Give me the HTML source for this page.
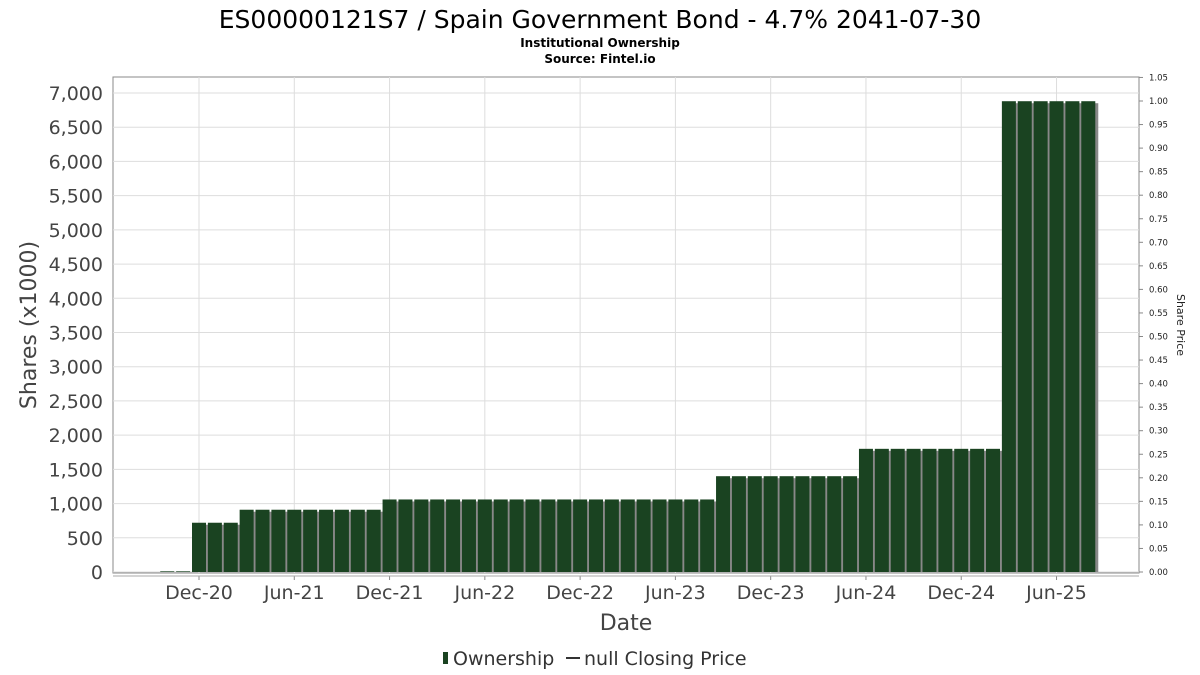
<!DOCTYPE html>
<html><head><meta charset="utf-8"><style>
body{margin:0;background:#fff;font-family:"DejaVu Sans","Liberation Sans",sans-serif;}
svg{display:block}
</style></head><body>
<svg id="c" width="1200" height="675" xmlns="http://www.w3.org/2000/svg">
<text x="600" y="28" text-anchor="middle" font-size="25" fill="#000">ES00000121S7 / Spain Government Bond - 4.7% 2041-07-30</text>
<text x="600" y="47" text-anchor="middle" font-size="12" font-weight="bold">Institutional Ownership</text>
<text x="600" y="63" text-anchor="middle" font-size="12" font-weight="bold">Source: Fintel.io</text>
<rect x="113" y="77" width="1026" height="496" fill="#fff" stroke="#888"/>
<g id="grid"></g><g id="bars"></g><g id="axes"></g>
<text transform="translate(36,325) rotate(-90)" text-anchor="middle" font-size="22" fill="#444">Shares (x1000)</text>
<text transform="translate(1177,325) rotate(90)" text-anchor="middle" font-size="11" fill="#222">Share Price</text>
<text x="626" y="630" text-anchor="middle" font-size="22" fill="#444">Date</text>
<g>
<rect x="443" y="652" width="5" height="12" fill="#1a4321"/>
<text x="453" y="665" font-size="19" fill="#333">Ownership</text>
<line x1="566" y1="658" x2="580" y2="658" stroke="#333" stroke-width="2"/>
<text x="584" y="665" font-size="19" fill="#333">null Closing Price</text>
</g>
</svg>
<script>
const months = ["2020-10","2020-11","2020-12","2021-01","2021-02","2021-03","2021-04","2021-05","2021-06","2021-07","2021-08","2021-09","2021-10","2021-11","2021-12","2022-01","2022-02","2022-03","2022-04","2022-05","2022-06","2022-07","2022-08","2022-09","2022-10","2022-11","2022-12","2023-01","2023-02","2023-03","2023-04","2023-05","2023-06","2023-07","2023-08","2023-09","2023-10","2023-11","2023-12","2024-01","2024-02","2024-03","2024-04","2024-05","2024-06","2024-07","2024-08","2024-09","2024-10","2024-11","2024-12","2025-01","2025-02","2025-03","2025-04","2025-05","2025-06","2025-07","2025-08"];
const ownership = [10,10,720,720,720,910,910,910,910,910,910,910,910,910,1060,1060,1060,1060,1060,1060,1060,1060,1060,1060,1060,1060,1060,1060,1060,1060,1060,1060,1060,1060,1060,1400,1400,1400,1400,1400,1400,1400,1400,1400,1800,1800,1800,1800,1800,1800,1800,1800,1800,6880,6880,6880,6880,6880,6880];
const xTickLabels = ["Dec-20","Jun-21","Dec-21","Jun-22","Dec-22","Jun-23","Dec-23","Jun-24","Dec-24","Jun-25"];
const xTickMonths = ["2020-12","2021-06","2021-12","2022-06","2022-12","2023-06","2023-12","2024-06","2024-12","2025-06"];
const yTicks = [0,500,1000,1500,2000,2500,3000,3500,4000,4500,5000,5500,6000,6500,7000];
const y2Ticks = [0,0.05,0.1,0.15,0.2,0.25,0.3,0.35,0.4,0.45,0.5,0.55,0.6,0.65,0.7,0.75,0.8,0.85,0.9,0.95,1.0,1.05];
const NS="http://www.w3.org/2000/svg";
function mi(s){const[a,b]=s.split("-").map(Number);return a*12+b-1;}
const x0=mi("2020-12");
function X(m){return 199+(mi(m)-x0)*15.88;}
function Y(v){return 572-v*(479/7000);}
function Y2(v){return 572-v*(471/1.0);}
function mk(t,a,p){const e=document.createElementNS(NS,t);for(const k in a)e.setAttribute(k,a[k]);p.appendChild(e);return e;}
const grid=document.getElementById("grid"),bars=document.getElementById("bars"),axes=document.getElementById("axes");
yTicks.forEach(v=>{
 const l=mk("line",{x1:113,x2:1139,y1:Y(v),y2:Y(v),stroke:"#ddd"},grid);
 
 
 const t=mk("text",{x:103,y:Y(v)+7,"text-anchor":"end","font-size":19,fill:"#444"},axes);
 t.textContent=v.toLocaleString("en-US");
 
 
});
y2Ticks.forEach(v=>{
 const t=mk("text",{x:1149,y:Y2(v)+3,"font-size":8.5,fill:"#222"},axes);
 t.textContent=v.toFixed(2);
 
 
 mk("line",{x1:1139,x2:1143,y1:Y2(v),y2:Y2(v),stroke:"#888"},axes);
});
xTickMonths.forEach((m,i)=>{
 const l=mk("line",{x1:X(m),x2:X(m),y1:77,y2:573,stroke:"#ddd"},grid);
 
 
 mk("line",{x1:X(m),x2:X(m),y1:576,y2:580,stroke:"#888"},axes);
 const t=mk("text",{x:X(m),y:599,"text-anchor":"middle","font-size":19,fill:"#444"},axes);
 t.textContent=xTickLabels[i];
 
 
});
mk("line",{x1:113,x2:1139,y1:576,y2:576,stroke:"#aaa"},axes);
months.forEach((m,i)=>{
 const v=ownership[i],x=X(m),y=Y(v),h=572-y;
 const s=mk("rect",{x:x-7+3,y:y+2,width:14,height:h-2,fill:"#888"},bars);
 
 
 const b=mk("rect",{x:x-7,y:y,width:14,height:h,fill:"#1a4321"},bars);
 
 
});
</script>
</body></html>
